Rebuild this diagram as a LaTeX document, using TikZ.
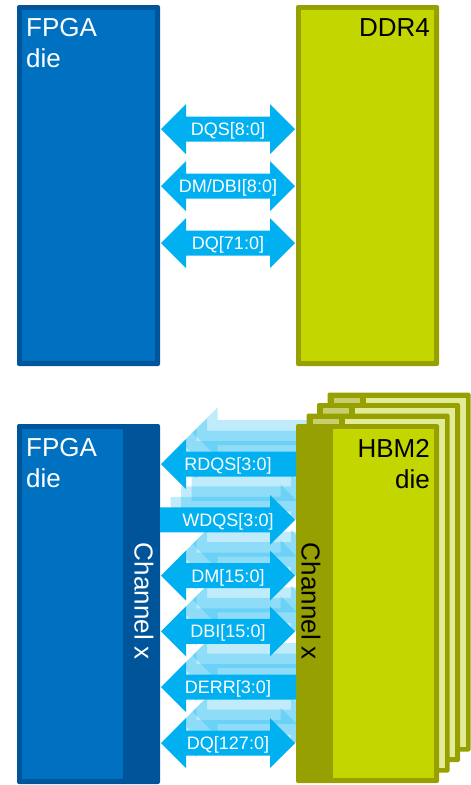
\documentclass[tikz,border=0pt]{standalone}
\usepackage{fontspec}
\setmainfont{Liberation Sans}

\definecolor{fpgadark}{HTML}{00549A}
\definecolor{fpgablue}{HTML}{0070C0}
\definecolor{sigcyan}{HTML}{00B0F0}
\definecolor{memolive}{HTML}{96A000}
\definecolor{memlime}{HTML}{C4D600}
\definecolor{palelime}{HTML}{E2EB96}
\definecolor{paleolive}{HTML}{C9CF6E}

\tikzset{
  sig/.style={fill=sigcyan},
  ghost/.style={fill=sigcyan, fill opacity=0.25},
  dietext/.style={inner sep=0pt, font=\fontsize{26}{31}\selectfont},
  sigtext/.style={inner sep=0pt, anchor=base, text=white, font=\fontsize{18}{18}\selectfont},
}

% block arrows between the dies, #1 style, #2 centre line
\newcommand\sigboth[2]{\fill[#1] (161,#2) -- (186,#2-25) -- (186,#2-12.5) -- (270,#2-12.5) -- (270,#2-25) -- (295,#2)
  -- (270,#2+25) -- (270,#2+12.5) -- (186,#2+12.5) -- (186,#2+25) -- cycle;}
\newcommand\sigleft[2]{\fill[#1] (161,#2) -- (186,#2-25) -- (186,#2-12.5) -- (296,#2-12.5)
  -- (296,#2+12.5) -- (186,#2+12.5) -- (186,#2+25) -- cycle;}
\newcommand\sigright[2]{\fill[#1] (160,#2-12.5) -- (270,#2-12.5) -- (270,#2-25) -- (295,#2)
  -- (270,#2+25) -- (270,#2+12.5) -- (160,#2+12.5) -- cycle;}
\newcommand\hbmsigs[1]{%
  \sigleft{#1}{464}
  \sigright{#1}{519.8}
  \sigboth{#1}{575.6}
  \sigboth{#1}{631.4}
  \sigleft{#1}{687.2}
  \sigboth{#1}{743}}
% one of the stacked HBM dies behind the front one
\newcommand\hbmlayer[2]{%
  \fill[memolive, rounded corners=2pt] (#1,#2) rectangle ++(143,359);
  \fill[paleolive] (#1+6,#2+5) rectangle (#1+32,#2+354);
  \fill[palelime] (#1+38,#2+5) rectangle (#1+138,#2+354);}

\begin{document}
\begin{tikzpicture}[x=1pt,y=-1pt]
\useasboundingbox (0,0) rectangle (471,785);

% FPGA <-> DDR4
\fill[fpgadark, rounded corners=2pt] (17,5) rectangle (160,366);
\fill[fpgablue] (22,10) rectangle (155,361);
\fill[memolive, rounded corners=2pt] (296,5) rectangle (439,366);
\fill[memlime] (301,10) rectangle (434,361);
\node[dietext, text=white, align=left, anchor=north west] (fpgaA) at (26,18) {FPGA\\die};
\node[dietext, anchor=north east] (ddr) at (430,18) {DDR4};

\sigboth{sig}{129}
\sigboth{sig}{186}
\sigboth{sig}{243}
\node[sigtext] (dqs) at (228,135.5) {DQS[8:0]};
\node[sigtext] (dmdbi) at (228,192.5) {DM/DBI[8:0]};
\node[sigtext] (dq) at (228,249.5) {DQ[71:0]};

% FPGA <-> HBM2
\begin{scope}[shift={(31.5,-31.5)}]\hbmsigs{ghost}\end{scope}
\begin{scope}[shift={(21,-21)}]\hbmsigs{ghost}\end{scope}
\begin{scope}[shift={(10.5,-10.5)}]\hbmsigs{ghost}\end{scope}

\hbmlayer{327.5}{392.5}
\hbmlayer{317}{403}
\hbmlayer{306.5}{413.5}
\fill[memolive, rounded corners=2pt] (296,424) rectangle (439,783);
\fill[memlime] (333,429) rectangle (434,778);
\node[dietext, align=right, anchor=north east] (hbm) at (430,439) {HBM2\\die};
\node[dietext, rotate=-90] (chhbm) at (311,601.5) {Channel x};

\fill[fpgadark, rounded corners=2pt] (17,424) rectangle (160,784);
\fill[fpgablue] (22,429) rectangle (123,779);
\node[dietext, text=white, align=left, anchor=north west] (fpgaB) at (26,438) {FPGA\\die};
\node[dietext, text=white, rotate=-90] (chfpga) at (144,601.5) {Channel x};

\hbmsigs{sig}
\node[sigtext] (rdqs) at (228,470.5) {RDQS[3:0]};
\node[sigtext] (wdqs) at (228,526.3) {WDQS[3:0]};
\node[sigtext] (dm) at (228,582.1) {DM[15:0]};
\node[sigtext] (dbi) at (228,637.9) {DBI[15:0]};
\node[sigtext] (derr) at (228,693.7) {DERR[3:0]};
\node[sigtext] (dqb) at (228,749.5) {DQ[127:0]};
\end{tikzpicture}
\end{document}
